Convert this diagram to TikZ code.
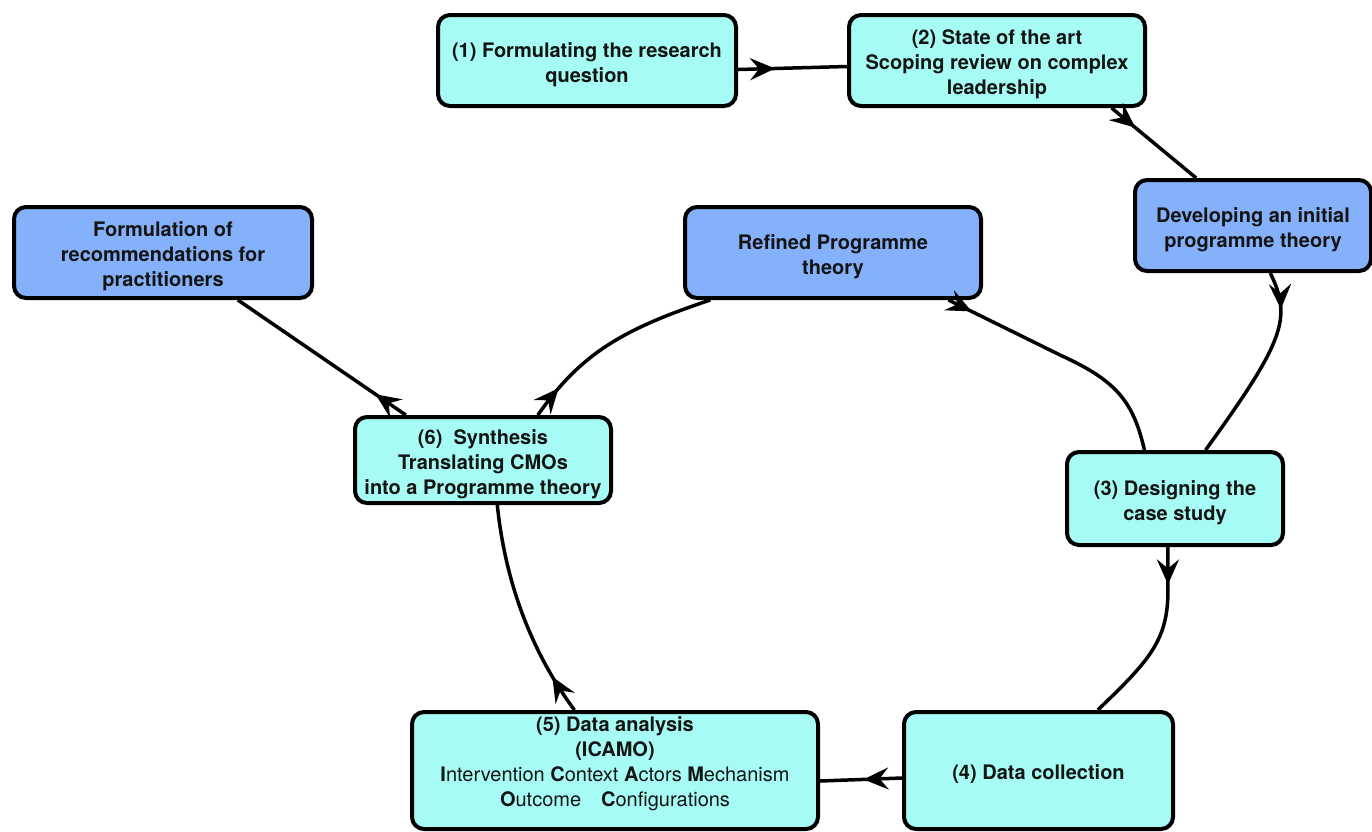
\documentclass[tikz,border=0pt]{standalone}
\usepackage{fontspec}
\setmainfont{TeX Gyre Heros}
\usetikzlibrary{arrows.meta,decorations.markings,calc}
\definecolor{boxcyan}{RGB}{166,252,244}
\definecolor{boxblue}{RGB}{133,176,250}
\newcommand\boxlines[1]{\raisebox{-4pt}[\height][\depth]{\begin{tabular}{@{}c@{}}#1\end{tabular}}}
\begin{document}
\begin{tikzpicture}[x=1pt,y=-1pt,
  txt/.style={font=\fontsize{20}{25}\selectfont, text=black!92, align=center},
  box/.style={draw=black, line width=4pt, rounded corners=12pt, inner sep=0pt, txt, font=\fontsize{20}{25}\selectfont\bfseries},
  cyanbox/.style={box, fill=boxcyan},
  bluebox/.style={box, fill=boxblue},
  flow/.style={line width=3.5pt, postaction={decorate},
    decoration={markings, mark=at position #1 with {\arrow{Stealth[length=25pt,width=22pt,inset=9pt]}}}}]
\fill[white] (0,0) rectangle (1372,831);
\useasboundingbox (0,0) rectangle (1372,831);

\node[cyanbox, minimum width=298pt, minimum height=91pt] (n1) at (587,60.5) {\boxlines{(1) Formulating the research\\question}};
\node[cyanbox, minimum width=296pt, minimum height=91pt] (n2) at (997,60.5) {\boxlines{(2) State of the art\\Scoping review on complex\\leadership}};
\node[bluebox, minimum width=236pt, minimum height=91pt] (dev) at (1253,225.5) {\boxlines{Developing an initial\\programme theory}};
\node[bluebox, minimum width=296pt, minimum height=91pt] (ref) at (833,252.5) {\boxlines{Refined Programme\\theory}};
\node[bluebox, minimum width=298pt, minimum height=91pt] (form) at (163,252.5) {\boxlines{Formulation of\\recommendations for\\practitioners}};
\node[cyanbox, minimum width=256pt, minimum height=86pt] (n6) at (483,460) {\boxlines{(6)\ \ Synthesis\\Translating CMOs\\into a Programme theory}};
\node[cyanbox, minimum width=216pt, minimum height=93pt] (n3) at (1175,498.5) {\boxlines{(3) Designing the\\case study}};
\node[cyanbox, minimum width=269pt, minimum height=117pt] (n4) at (1038.5,770.5) {\boxlines{(4) Data collection}};
\node[cyanbox, minimum width=406pt, minimum height=117pt,
  label={[txt, yshift=7pt]center:{{\bfseries (5) Data analysis}\\{\bfseries (ICAMO)}\\\textbf{I}ntervention \textbf{C}ontext \textbf{A}ctors \textbf{M}echanism\\\textbf{O}utcome\quad\textbf{C}onfigurations}}] (n5) at (615,770.5) {};

\draw[flow=0.34] ([yshift=-9pt]n1.east) -- ([yshift=-6pt]n2.west);
\draw[flow=0.28] ($(n2.south west)!0.882!(n2.south east)$) -- ($(dev.north west)!0.263!(dev.north east)$);
\draw[flow=0.19] ($(dev.south west)!0.572!(dev.south east)$) .. controls (1292,318) and (1285,340) .. ($(n3.north west)!0.639!(n3.north east)$);
\draw[flow=0.1] ($(ref.south west)!0.885!(ref.south east)$) -- (1060,355) .. controls (1115,380) and (1133,400) .. ($(n3.north west)!0.361!(n3.north east)$);
\draw[flow=0.2] ($(n3.south west)!0.468!(n3.south east)$) -- ++(0,43) .. controls (1168,640) and (1150,660) .. ($(n4.north west)!0.717!(n4.north east)$);
\draw[flow=0.47] ([yshift=-7.5pt]n4.west) -- ([yshift=-10.5pt]n5.east);
\draw[flow=0.18] ($(n5.north west)!0.401!(n5.north east)$) .. controls (530,650) and (505,580) .. ($(n6.south west)!0.555!(n6.south east)$);
\draw[flow=0.16] ($(n6.north west)!0.711!(n6.north east)$) .. controls (580,355) and (620,330) .. ($(ref.south west)!0.091!(ref.south east)$);
\draw[flow=0.18] ($(n6.north west)!0.203!(n6.north east)$) -- ($(form.south west)!0.748!(form.south east)$);
\end{tikzpicture}
\end{document}
